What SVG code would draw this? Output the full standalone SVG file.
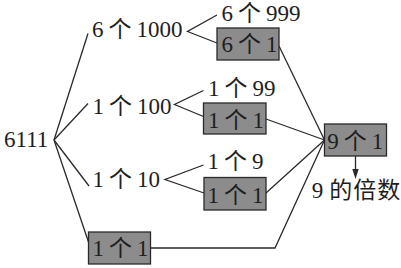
<svg xmlns="http://www.w3.org/2000/svg" width="401" height="268" viewBox="0 0 401 268">
<defs>
<style>
.t{font-family:"Liberation Serif","Noto Sans CJK SC",serif;font-size:23px;fill:#1e1e1e}
.b{fill:#8c8c8c;stroke:#2a2a2a;stroke-width:1.3}
.c{fill:none;stroke:#2a2a2a;stroke-width:1.3}
</style>
</defs>
<rect width="401" height="268" fill="#fff"/>
<g id="connectors">
<path class="c" d="M54,140 L88,33.5"/>
<path class="c" d="M54,140 L88,103.5"/>
<path class="c" d="M54,140 L89,186"/>
<path class="c" d="M54,140 L88.5,242"/>
<path class="c" d="M217,15 L187.5,31.5 L217,43"/>
<path class="c" d="M203.5,90.5 L174.5,104.5 L203.5,116.5"/>
<path class="c" d="M203.5,165 L165,179.5 L204,193"/>
<path class="c" d="M279,46 L324.5,140"/>
<path class="c" d="M266,119 L324.5,140"/>
<path class="c" d="M266,193 L324.5,140"/>
<path class="c" d="M151,248 L275,248 L324.5,140"/>
<path class="c" d="M355.5,156 L355.5,171" stroke-width="1.1"/>
<path d="M352.3,169 L358.7,169 L355.5,179 Z" fill="#2a2a2a"/>
</g>
<g id="n6111"><text class="t" x="4" y="147">6111</text></g>
<g id="n6x1000"><text class="t" x="92" y="36.5" dx="0 5 5">6个1000</text></g>
<g id="n6x999"><text class="t" x="221.5" y="20.5" dx="0 5 5">6个999</text></g>
<g id="n6x1"><rect class="b" x="217" y="28" width="62" height="32"/><text class="t" x="221.5" y="52" dx="0 5 5">6个1</text></g>
<g id="n1x100"><text class="t" x="92.5" y="114" dx="0 5 5">1个100</text></g>
<g id="n1x99"><text class="t" x="208" y="95.5" dx="0 5 5">1个99</text></g>
<g id="n1x1a"><rect class="b" x="203.5" y="103" width="62.5" height="31"/><text class="t" x="208" y="128" dx="0 5 5">1个1</text></g>
<g id="n1x10"><text class="t" x="92.5" y="186.5" dx="0 5 5">1个10</text></g>
<g id="n1x9"><text class="t" x="207.5" y="169" dx="0 5 5">1个9</text></g>
<g id="n1x1b"><rect class="b" x="204" y="177.5" width="62" height="32.5"/><text class="t" x="207.5" y="202.5" dx="0 5 5">1个1</text></g>
<g id="n1x1c"><rect class="b" x="88.5" y="232" width="62" height="32"/><text class="t" x="92.5" y="256" dx="0 5 5">1个1</text></g>
<g id="n9x1"><rect class="b" x="324.5" y="124" width="62" height="32"/><text class="t" x="327.3" y="148.5" dx="0 5 5">9个1</text></g>
<g id="nmul"><text class="t" x="311.7" y="198" dx="0 6 1 1">9的倍数</text></g>
</svg>
